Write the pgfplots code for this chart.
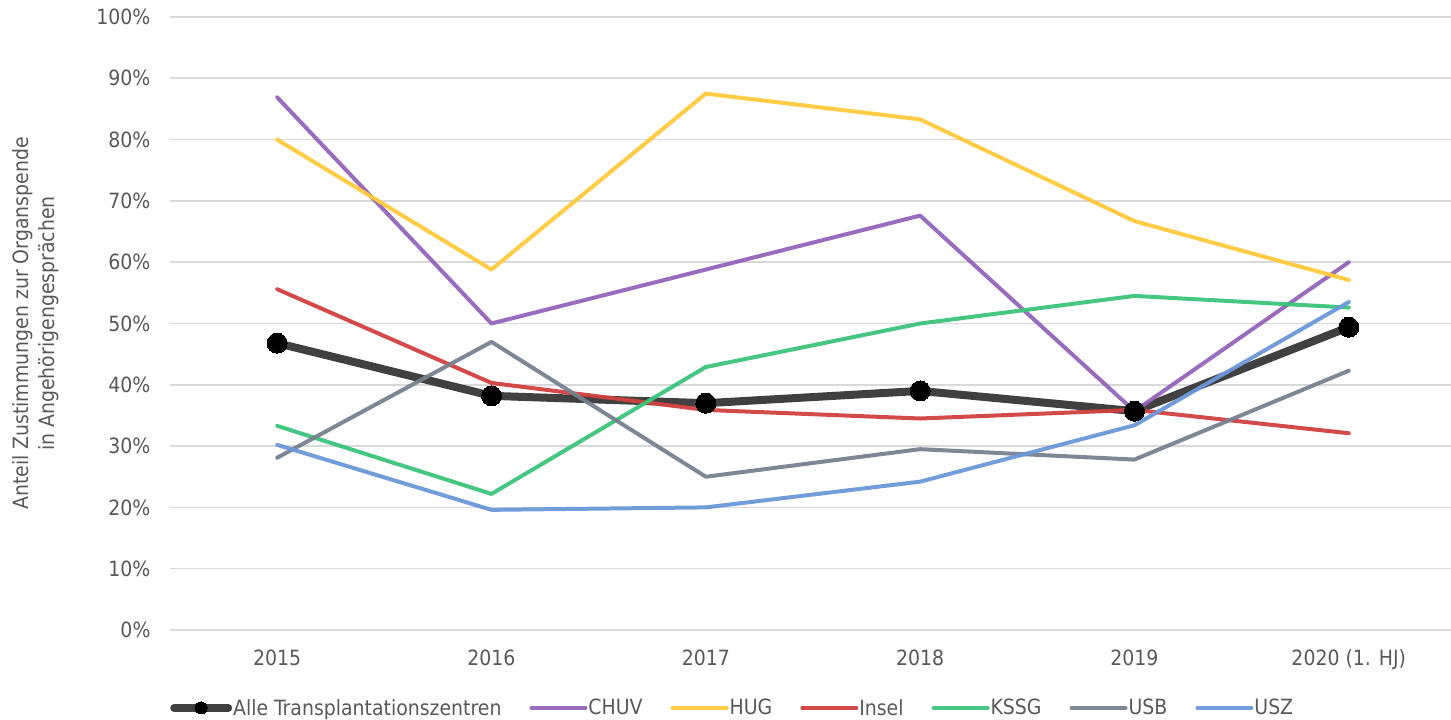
\documentclass[border=0pt]{standalone}
\usepackage{pgfplots}
\pgfplotsset{compat=1.18}
\usepackage{fontspec}
\setmainfont{DejaVu Sans Condensed}
\definecolor{txt}{HTML}{595959}
\definecolor{grid}{HTML}{D9D9D9}
\definecolor{alle}{HTML}{404040}
\definecolor{chuv}{HTML}{9564BA}
\definecolor{hug}{HTML}{FFC93C}
\definecolor{insel}{HTML}{D23F3F}
\definecolor{kssg}{HTML}{3CC47A}
\definecolor{usb}{HTML}{76818F}
\definecolor{usz}{HTML}{6C98D8}
\begin{document}
\begin{tikzpicture}
\begin{axis}[
  scale only axis,
  width=1286pt, height=613pt,
  xmin=-0.5, xmax=5.5, ymin=0, ymax=100,
  axis line style={draw=none},
  tick style={draw=none},
  ymajorgrids, grid style={color=grid, line width=1.6pt},
  ytick={0,10,...,100},
  yticklabel={\pgfmathprintnumber{\tick}\%},
  xtick={0,1,2,3,4,5},
  xticklabels={2015,2016,2017,2018,2019,2020 (1. HJ)},
  ticklabel style={font=\fontsize{21}{24}\selectfont, text=txt},
  /pgf/number format/assume math mode=true,
  yticklabel style={xshift=-16pt},
  xticklabel style={yshift=-16pt},
  ylabel={Anteil Zustimmungen zur Organspende\\in Angehörigengesprächen},
  ylabel style={align=center, font=\fontsize{21}{26}\selectfont, text=txt, yshift=31pt},
  legend columns=7,
  legend style={at={(0,-0.127)}, anchor=west, draw=none, fill=none,
    inner xsep=0pt,
    font=\fontsize{21}{24}\selectfont, text=txt,
    nodes={inner xsep=1pt},
    /tikz/every odd column/.append style={column sep=0pt},
    /tikz/every even column/.append style={column sep=27pt}},
  legend image code/.code={\draw[#1,mark repeat=2,mark phase=2,mark size=6pt] plot coordinates {(0pt,0pt) (27pt,0pt) (54pt,0pt)};},
  every axis plot/.append style={line width=4pt, line join=round, line cap=round},
]
\addplot[alle, line width=8pt, mark=*, mark size=10pt, mark options={fill=black, draw=black, line width=0pt}] coordinates {(0,46.8) (1,38.2) (2,37.0) (3,39.0) (4,35.7) (5,49.4)};
\addlegendentry{Alle Transplantationszentren}
\addplot[chuv, opacity=0.95] coordinates {(0,86.9) (1,50.0) (2,58.8) (3,67.6) (4,35.7) (5,60.0)};
\addlegendentry{CHUV}
\addplot[hug, opacity=0.95] coordinates {(0,80.0) (1,58.8) (2,87.5) (3,83.3) (4,66.7) (5,57.1)};
\addlegendentry{HUG}
\addplot[insel, opacity=0.95] coordinates {(0,55.6) (1,40.3) (2,35.9) (3,34.5) (4,35.9) (5,32.1)};
\addlegendentry{Insel}
\addplot[kssg, opacity=0.95] coordinates {(0,33.3) (1,22.2) (2,42.9) (3,50.0) (4,54.5) (5,52.6)};
\addlegendentry{KSSG}
\addplot[usb, opacity=0.95] coordinates {(0,28.1) (1,47.0) (2,25.0) (3,29.5) (4,27.8) (5,42.3)};
\addlegendentry{USB}
\addplot[usz, opacity=0.95] coordinates {(0,30.2) (1,19.6) (2,20.0) (3,24.2) (4,33.4) (5,53.5)};
\addlegendentry{USZ}
\coordinate (O) at (rel axis cs:0,0);
\end{axis}
\pgfresetboundingbox
\path ([shift={(-170pt,-90pt)}]O) rectangle ([shift={(1281pt,630pt)}]O);
\end{tikzpicture}
\end{document}
